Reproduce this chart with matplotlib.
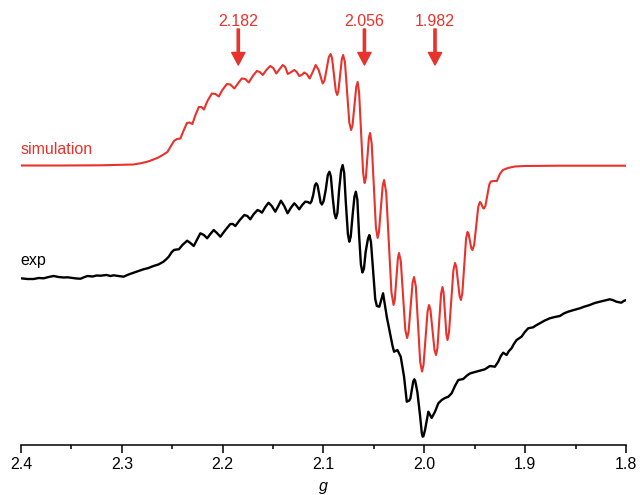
import numpy as np
import matplotlib
matplotlib.use("Agg")
import matplotlib.pyplot as plt

plt.rcParams['font.family'] = ['Liberation Sans', 'DejaVu Sans']

RED = '#e8322c'

# simulated spectrum (g, intensity in arb. units)
sim_g = [2.4003, 2.3607, 2.3211, 2.2884, 2.2815, 2.2746, 2.2686, 2.2637, 2.2587, 2.2548,
         2.2518, 2.2483, 2.2453, 2.2419, 2.2389, 2.2354, 2.2330, 2.2300, 2.2270, 2.2236,
         2.2211, 2.2186, 2.2151, 2.2107, 2.2072, 2.2038, 2.2003, 2.1958, 2.1924, 2.1884,
         2.1845, 2.1810, 2.1775, 2.1741, 2.1701, 2.1661, 2.1632, 2.1602, 2.1567, 2.1528,
         2.1498, 2.1468, 2.1434, 2.1404, 2.1379, 2.1354, 2.1320, 2.1290, 2.1265, 2.1241,
         2.1216, 2.1191, 2.1166, 2.1137, 2.1107, 2.1077, 2.1048, 2.1008, 2.0990, 2.0947,
         2.0929, 2.0915, 2.0878, 2.0864, 2.0852, 2.0818, 2.0805, 2.0787, 2.0744, 2.0726,
         2.0712, 2.0675, 2.0661, 2.0647, 2.0607, 2.0592, 2.0580, 2.0550, 2.0538, 2.0522,
         2.0480, 2.0463, 2.0450, 2.0413, 2.0399, 2.0378, 2.0326, 2.0305, 2.0293, 2.0262,
         2.0251, 2.0233, 2.0189, 2.0171, 2.0156, 2.0117, 2.0102, 2.0084, 2.0041, 2.0023,
         2.0008, 1.9968, 1.9953, 1.9939, 1.9899, 1.9884, 1.9870, 1.9834, 1.9820, 1.9809,
         1.9781, 1.9770, 1.9755, 1.9712, 1.9696, 1.9683, 1.9650, 1.9637, 1.9623, 1.9586,
         1.9572, 1.9561, 1.9534, 1.9523, 1.9506, 1.9465, 1.9449, 1.9440, 1.9418, 1.9409,
         1.9394, 1.9355, 1.9340, 1.9310, 1.9280, 1.9251, 1.9221, 1.9171, 1.9102, 1.9003,
         1.8656, 1.7993]
sim_int = [278.5, 278.5, 278.7, 279.5, 280.7, 282.3, 284.5, 286.5, 289.5, 292,
           297, 303, 305, 305.5, 313, 321, 321.5, 320, 329, 337,
           337, 334.5, 343, 350.5, 350, 347.5, 354, 360, 359.5, 355.5,
           361, 365.5, 365, 361.5, 368, 373, 372, 369, 374, 378,
           376, 370.5, 375, 379, 377, 370, 372, 374, 372, 368,
           369, 371.5, 370, 365.5, 372, 379, 374, 360.5, 363.5, 387,
           390, 385.9, 353.1, 349, 353, 385, 389, 381.5, 321.5, 314,
           318.8, 357.2, 362, 351.9, 271.1, 261, 266, 306, 311, 300.5,
           216.5, 206, 211.8, 258.2, 264, 251.5, 151.5, 139, 144.2, 185.8,
           191, 182.5, 114.5, 106, 112.1, 160.9, 167, 157.5, 82, 72.5,
           79.1, 132.3, 139, 134, 94, 89, 95.8, 150.2, 157, 151.7,
           109.3, 104, 111.7, 173.3, 181, 177.3, 147.7, 144, 150.8, 205.2,
           212, 210.2, 195.8, 194, 198.8, 237.2, 242, 241.3, 236.1, 235.5,
           238.2, 259.8, 262.5, 263, 263, 270, 274, 276, 277.5, 278,
           278.3, 278.3]

# experimental spectrum
exp_g = [2.4003, 2.3934, 2.3874, 2.3825, 2.3775, 2.3726, 2.3676, 2.3627, 2.3577, 2.3538,
         2.3488, 2.3449, 2.3409, 2.3369, 2.3340, 2.3290, 2.3251, 2.3211, 2.3152, 2.3112,
         2.3082, 2.3033, 2.2983, 2.2934, 2.2884, 2.2835, 2.2785, 2.2736, 2.2686, 2.2637,
         2.2587, 2.2557, 2.2533, 2.2508, 2.2483, 2.2458, 2.2434, 2.2399, 2.2352, 2.2320,
         2.2287, 2.2256, 2.2221, 2.2186, 2.2154, 2.2122, 2.2089, 2.2057, 2.2023, 2.1973,
         2.1924, 2.1899, 2.1874, 2.1830, 2.1785, 2.1755, 2.1726, 2.1691, 2.1654, 2.1632,
         2.1610, 2.1577, 2.1545, 2.1513, 2.1478, 2.1448, 2.1422, 2.1389, 2.1356, 2.1325,
         2.1290, 2.1265, 2.1241, 2.1211, 2.1181, 2.1156, 2.1132, 2.1119, 2.1102, 2.1085,
         2.1072, 2.1059, 2.1043, 2.1029, 2.1016, 2.0999, 2.0978, 2.0957, 2.0941, 2.0927,
         2.0909, 2.0891, 2.0877, 2.0862, 2.0845, 2.0825, 2.0810, 2.0795, 2.0780, 2.0758,
         2.0744, 2.0730, 2.0711, 2.0693, 2.0679, 2.0664, 2.0647, 2.0629, 2.0614, 2.0599,
         2.0582, 2.0559, 2.0545, 2.0529, 2.0508, 2.0487, 2.0471, 2.0446, 2.0409, 2.0372,
         2.0340, 2.0315, 2.0300, 2.0267, 2.0234, 2.0201, 2.0174, 2.0149, 2.0138, 2.0110,
         2.0099, 2.0090, 2.0069, 2.0043, 2.0025, 2.0016, 2.0008, 1.9993, 1.9960, 1.9927,
         1.9894, 1.9861, 1.9828, 1.9795, 1.9762, 1.9729, 1.9696, 1.9663, 1.9614, 1.9577,
         1.9548, 1.9498, 1.9449, 1.9399, 1.9350, 1.9300, 1.9267, 1.9241, 1.9218, 1.9184,
         1.9161, 1.9135, 1.9112, 1.9085, 1.9036, 1.9003, 1.8970, 1.8921, 1.8894, 1.8855,
         1.8805, 1.8756, 1.8706, 1.8656, 1.8617, 1.8574, 1.8518, 1.8458, 1.8409, 1.8359,
         1.8310, 1.8260, 1.8211, 1.8161, 1.8132, 1.8095, 1.8046, 1.8023, 1.7996]
exp_int = [165.7, 165, 165, 166, 165.7, 167, 168, 167, 166.5, 166.7,
           166, 165.5, 165.3, 167, 168, 167.5, 168.5, 168.3, 169, 168,
           168.7, 168, 167.3, 169.5, 171.3, 173, 174.7, 176, 178, 179.5,
           182.3, 185, 187.5, 191.5, 194, 194.5, 194.7, 199, 203.3, 201,
           198, 204, 210.7, 209, 205.7, 210, 214, 211, 207.3, 214,
           220, 220, 218, 224, 229, 228, 224.7, 230, 234, 233,
           231.3, 237, 241.3, 238, 232.3, 238, 243.3, 238, 230.7, 236,
           240.7, 238, 234.7, 239, 242.3, 242, 240.7, 242.7, 249, 258.7,
           260.7, 258.6, 250, 241.6, 239.5, 242.8, 254, 269, 272.3, 267.6,
           247, 230.4, 225.7, 231, 254, 273.7, 279, 271.3, 244, 210,
           202.3, 207.3, 229, 247.3, 252.3, 244.2, 209, 179.6, 171.5, 175.2,
           192, 205.2, 209, 201.9, 174, 145.1, 138, 137.3, 150.7, 127,
           110.7, 98, 92.3, 94, 87.3, 67.3, 42.3, 43.5, 45.6, 62.6,
           64.7, 63, 52, 29, 11, 7.3, 8, 14, 32.3, 26,
           32.3, 40.7, 44, 46, 47.3, 50.7, 58, 64, 65, 68.5,
           70.5, 72, 73.3, 74.7, 78, 77.3, 82.3, 88, 91.3, 89,
           93, 95.7, 100, 104, 107.3, 112, 115.7, 116.7, 118.5, 120.7,
           123.5, 125.7, 127, 128, 130.5, 132.3, 134, 135.7, 137.5, 139,
           141, 142.3, 143.5, 144.7, 144, 142.3, 141.3, 143, 144]

# marked g values and where their arrows sit
mark_labels = ['2.182', '2.056', '1.982']
mark_g = [2.1845, 2.0594, 1.9894]

fig = plt.figure(figsize=(6.4, 4.95), dpi=100)
ax = fig.add_axes([0.0328, 0.101, 0.9453, 0.899])

ax.plot(sim_g, sim_int, color=RED, lw=1.5, solid_joinstyle='round')
ax.plot(exp_g, exp_int, color='black', lw=1.7, solid_joinstyle='round')

ax.text(2.4003, 290, 'simulation', color=RED, fontsize=11.5, ha='left', va='baseline')
ax.text(2.4003, 179, 'exp', color='black', fontsize=11.5, ha='left', va='baseline')

for lab, g in zip(mark_labels, mark_g):
    ax.text(g, 418, lab, color=RED, fontsize=11.5, ha='center', va='baseline')
    ax.annotate('', xy=(g, 379), xytext=(g, 415),
                arrowprops=dict(facecolor=RED, edgecolor=RED, width=1.6,
                                headwidth=9.5, headlength=9, shrink=0))

ax.set_xlim(2.4, 1.8)
ax.set_ylim(-1, 444)
ax.set_xticks([2.4, 2.3, 2.2, 2.1, 2.0, 1.9, 1.8])
ax.set_xticklabels(['2.4', '2.3', '2.2', '2.1', '2.0', '1.9', '1.8'])
ax.set_xticks([2.35, 2.25, 2.15, 2.05, 1.95, 1.85], minor=True)
ax.tick_params(axis='x', which='major', direction='out', length=5.4, width=1.1,
               labelsize=11.5, pad=3)
ax.tick_params(axis='x', which='minor', direction='out', length=3, width=1.1)
ax.set_yticks([])
for side in ['top', 'left', 'right']:
    ax.spines[side].set_visible(False)
ax.spines['bottom'].set_linewidth(1.1)
ax.set_xlabel('g', fontsize=11.5, style='italic', labelpad=5)

fig.savefig('out.png', dpi=100)
